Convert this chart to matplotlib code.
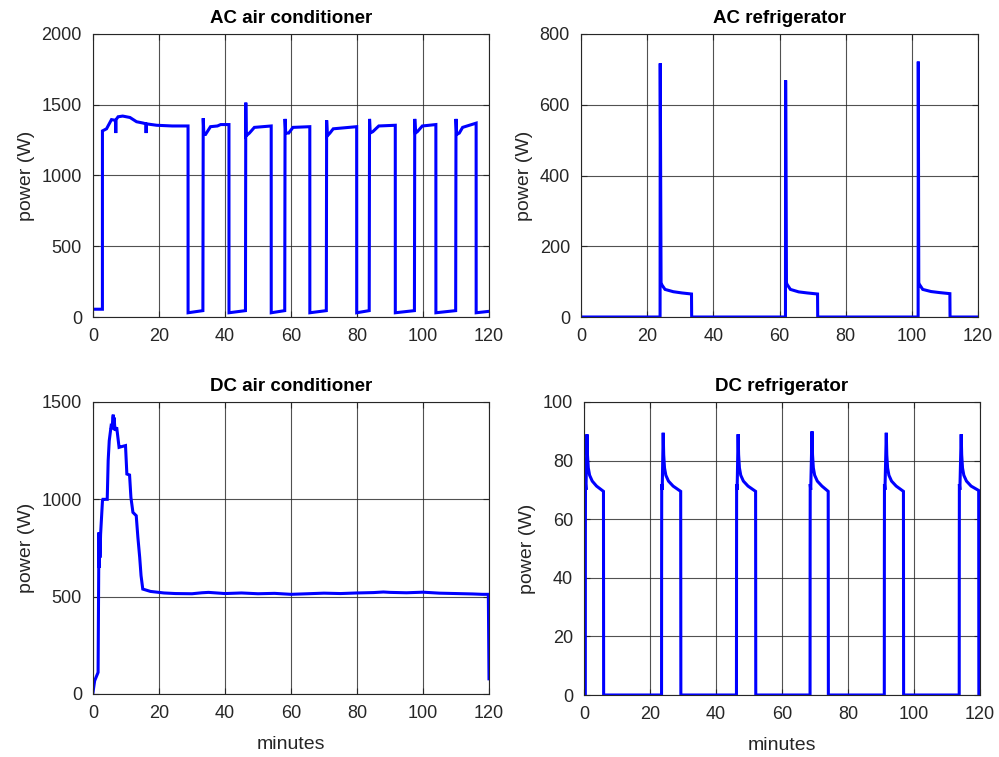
import matplotlib
matplotlib.use("Agg")
import matplotlib.pyplot as plt

plt.rcParams['font.family'] = ['Liberation Sans', 'DejaVu Sans']

# ---- AC air conditioner (minutes, W) ----
ac_ac_t = [0, 2.85, 2.86, 4.1, 5.6, 6.8, 6.9, 7.0, 7.6, 9.0, 11.2, 13.2, 15.3, 16.0, 16.1, 16.2, 19.3, 24.0, 28.8,
           28.81, 33.3, 33.4, 33.6, 34.1, 35.6, 37.7, 38.7, 41.2,
           41.21, 46.2, 46.3, 46.4, 47.4, 48.9, 54.0,
           54.01, 58.1, 58.2, 58.4, 59.3, 60.6, 65.7,
           65.71, 70.7, 70.8, 71.0, 71.8, 72.8, 79.9,
           79.91, 83.7, 83.8, 84.0, 84.8, 86.6, 91.6,
           91.61, 97.4, 97.5, 97.7, 98.3, 99.8, 103.9,
           103.91, 109.9, 110.0, 110.2, 111.0, 112.0, 116.1,
           116.11, 120]
ac_ac_p = [55, 55, 1315, 1330, 1395, 1390, 1300, 1395, 1415, 1420, 1410, 1380, 1370, 1365, 1300, 1365, 1355, 1350, 1350,
           30, 45, 1405, 1290, 1290, 1345, 1350, 1360, 1360,
           30, 45, 1515, 1280, 1300, 1340, 1350,
           30, 45, 1400, 1300, 1300, 1340, 1345,
           30, 45, 1390, 1280, 1300, 1330, 1345,
           30, 45, 1400, 1300, 1310, 1350, 1355,
           30, 45, 1400, 1300, 1310, 1350, 1360,
           30, 45, 1400, 1290, 1300, 1340, 1370,
           30, 40]

# ---- AC refrigerator ----
ac_rf_t = [0, 23.9, 23.95, 24.2, 24.5, 25.4, 27.9, 30.5, 33.4, 33.45,
           61.8, 61.85, 62.1, 62.3, 63.3, 65.8, 68.4, 71.5, 71.55,
           101.9, 101.95, 102.1, 102.3, 103.3, 105.8, 108.4, 111.5, 111.55, 120]
ac_rf_p = [0, 0, 717, 97, 90, 78, 71.5, 68, 65, 0,
           0, 669, 97, 92, 78, 71, 68, 65, 0,
           0, 722, 97, 92, 78, 72, 69, 66, 0, 0]

# ---- DC air conditioner ----
dc_ac_t = [0, 0.5, 1.54, 1.8, 1.9, 2.0, 2.1, 2.3, 2.87, 3.0, 4.31, 4.6, 4.92, 5.44, 5.8, 6.0, 6.15, 6.3, 6.4, 6.67, 7.18,
           7.9, 8.5, 9.85, 10.26, 11.08, 11.49, 12.1, 13.1, 13.6, 14.15, 14.56, 15.08, 17.4, 21.5,
           25, 30, 33, 35, 40, 45, 50, 55, 60, 65, 70, 75, 80, 85, 88, 90, 95, 100, 105, 110, 115, 118, 119.8, 120]
dc_ac_p = [9, 68, 111, 830, 650, 830, 700, 820, 993, 1000, 1000, 1200, 1301, 1370, 1360, 1420, 1435, 1380, 1420, 1353, 1370,
           1267, 1270, 1276, 1130, 1125, 1010, 933, 916, 805, 702, 608, 539, 527, 519,
           516, 515, 520, 522, 516, 519, 515, 517, 512, 515, 518, 516, 519, 521, 524, 522, 520, 523, 518, 516, 514, 512, 512, 78]

# ---- DC refrigerator ----
dc_rf_t = [0, 0.4, 0.42, 0.45, 0.6, 0.9, 1.05, 1.3, 1.7, 2.5, 3.8, 5.9, 5.95,
           23.5, 23.52, 23.55, 23.7, 24.0, 24.15, 24.4, 24.8, 25.6, 27.0, 29.3, 29.35,
           46.2, 46.22, 46.25, 46.4, 46.7, 46.85, 47.1, 47.5, 48.3, 49.7, 52.0, 52.05,
           68.5, 68.52, 68.55, 68.7, 69.1, 69.25, 69.5, 69.9, 70.7, 72.1, 74.0, 74.05,
           91.0, 91.02, 91.05, 91.2, 91.6, 91.75, 92.0, 92.4, 93.2, 94.6, 96.8, 96.85,
           113.7, 113.72, 113.75, 113.9, 114.3, 114.45, 114.7, 115.1, 115.9, 117.3, 119.6, 119.65, 120]
dc_rf_p = [0, 0, 55, 72, 70, 89, 82, 77.5, 75, 73, 71.3, 69.5, 0,
           0, 45, 72, 70, 89.5, 82, 77.5, 75, 73, 71.3, 69.5, 0,
           0, 40, 72, 70, 89, 82, 77.5, 75, 73, 71.3, 69.5, 0,
           0, 50, 72, 70, 90, 82, 77.5, 75, 73, 71.3, 69.5, 0,
           0, 45, 72, 70, 89.5, 82, 77.5, 75, 73, 71.3, 69.5, 0,
           0, 45, 72, 70, 89, 82, 77.5, 75, 73, 71.3, 69.8, 0, 0]

titles = ["AC air conditioner", "AC refrigerator", "DC air conditioner", "DC refrigerator"]
series = [(ac_ac_t, ac_ac_p), (ac_rf_t, ac_rf_p), (dc_ac_t, dc_ac_p), (dc_rf_t, dc_rf_p)]
ylims = [(0, 2000), (0, 800), (0, 1500), (0, 100)]
yticks = [[0, 500, 1000, 1500, 2000], [0, 200, 400, 600, 800],
          [0, 500, 1000, 1500], [0, 20, 40, 60, 80, 100]]
xticks = [0, 20, 40, 60, 80, 100, 120]

fig = plt.figure(figsize=(9.99, 7.57), dpi=100)
W, H = 999.0, 757.0
boxes = [(93, 34, 489, 317), (581, 34, 978, 317), (93, 402, 489, 694), (584, 402, 980, 695)]

for i, (x0, y0, x1, y1) in enumerate(boxes):
    ax = fig.add_axes([x0 / W, 1 - y1 / H, (x1 - x0) / W, (y1 - y0) / H])
    t, p = series[i]
    ax.plot(t, p, color=(0, 0, 1), lw=2.2, solid_joinstyle='miter')
    ax.set_xlim(0, 120)
    ax.set_ylim(*ylims[i])
    ax.set_xticks(xticks)
    ax.set_yticks(yticks[i])
    ax.grid(True, color='#262626', lw=0.8, alpha=0.8)
    ax.set_axisbelow(True)
    ax.tick_params(direction='in', labelsize=13, length=4, color='#262626', labelcolor='#262626',
                   top=True, right=True)
    ax.tick_params(axis='y', pad=8)
    ax.tick_params(axis='x', pad=8)
    for s in ax.spines.values():
        s.set_color('#262626')
        s.set_linewidth(0.8)
    ax.set_title(titles[i], fontsize=13.5, fontweight='bold', pad=8, color='black')
    ax.set_ylabel("power (W)", fontsize=14, color='#262626', labelpad=5)
    if i >= 2:
        ax.set_xlabel("minutes", fontsize=14, color='#262626', labelpad=10)

fig.savefig("out.png", dpi=100, facecolor='white')
